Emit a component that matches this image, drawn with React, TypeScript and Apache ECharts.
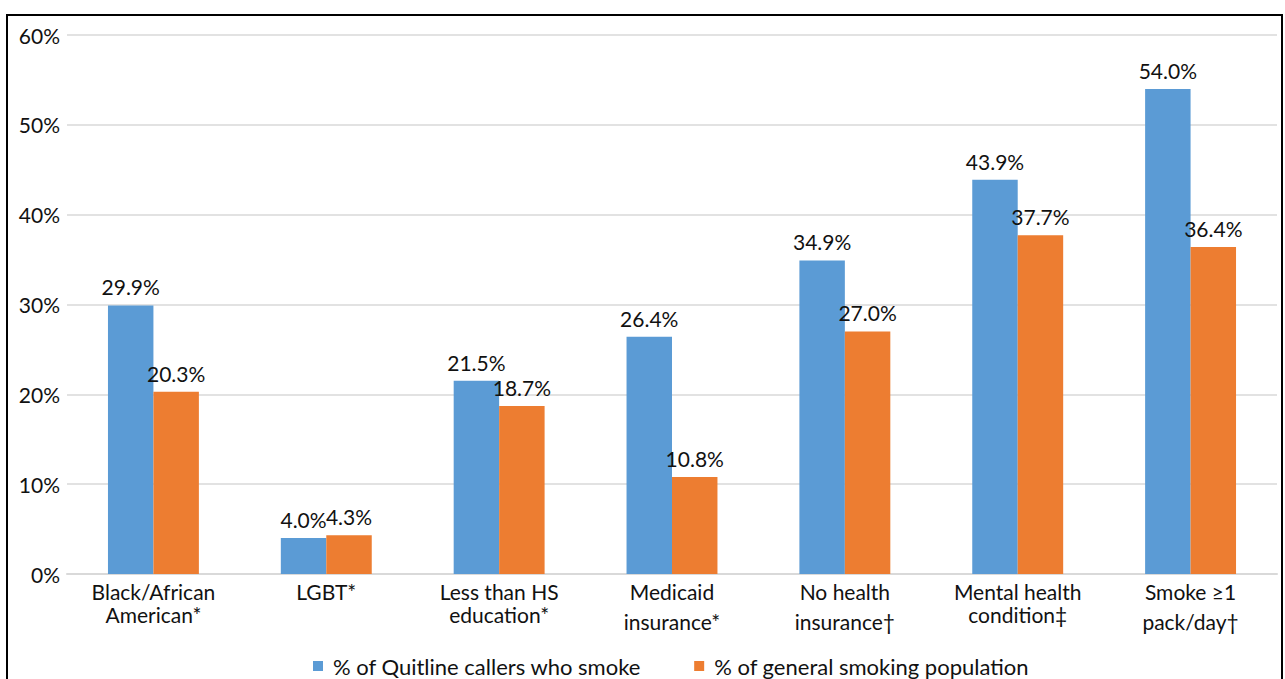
import React, { useEffect, useRef } from "react";
import * as echarts from "echarts";

const categories = [
  "Black/African\nAmerican*",
  "LGBT*",
  "Less than HS\neducation*",
  "Medicaid\ninsurance*",
  "No health\ninsurance†",
  "Mental health\ncondition‡",
  "Smoke ≥1\npack/day†",
];
const quitlineCallers = [29.9, 4.0, 21.5, 26.4, 34.9, 43.9, 54.0];
const generalPopulation = [20.3, 4.3, 18.7, 10.8, 27.0, 37.7, 36.4];
const seriesNames = ["% of Quitline callers who smoke", "% of general smoking population"];
// second-line spacing per category (dagger/asterisk superscripts push some lines lower)
const secondLineStyle = ["b", "b", "b", "c", "c", "b", "c"];

const FONT = "Lato";
const TEXT = "#111";

export default function App() {
  const ref = useRef<HTMLDivElement>(null);
  useEffect(() => {
    document.body.style.margin = "0";
    const chart = echarts.init(ref.current!, null, { renderer: "svg" });
    const labelStyle = {
      show: true,
      position: "top" as const,
      distance: 8,
      fontFamily: FONT,
      fontSize: 21,
      color: TEXT,
      formatter: (p: any) => p.value.toFixed(1) + "%",
    };
    chart.setOption({
      animation: false,
      textStyle: { fontFamily: FONT },
      grid: { left: 67, right: 8, top: 35, bottom: 105, containLabel: false },
      legend: {
        bottom: -3,
        left: 308,
        itemWidth: 10,
        itemHeight: 10,
        itemGap: 53,
        icon: "rect",
        textStyle: { fontFamily: FONT, fontSize: 22, color: TEXT, padding: [0, 0, 0, 5] },
        data: seriesNames,
      },
      xAxis: {
        type: "category",
        data: categories,
        axisLine: { lineStyle: { color: "#d9d9d9", width: 2 } },
        axisTick: { show: false },
        axisLabel: {
          interval: 0,
          margin: 6,
          color: TEXT,
          formatter: (v: string, i: number) => {
            const parts = v.split("\n");
            if (parts.length === 1) return `{a|${parts[0]}}`;
            return `{a|${parts[0]}}\n{${secondLineStyle[i]}|${parts[1]}}`;
          },
          rich: {
            a: { fontFamily: FONT, fontSize: 21, lineHeight: 23, color: TEXT },
            b: { fontFamily: FONT, fontSize: 21, lineHeight: 23, color: TEXT },
            c: { fontFamily: FONT, fontSize: 21, lineHeight: 37, color: TEXT },
          },
        },
      },
      yAxis: {
        type: "value",
        min: 0,
        max: 60,
        interval: 10,
        axisLine: { show: false },
        axisTick: { show: false },
        axisLabel: {
          formatter: "{value}%",
          fontFamily: FONT,
          fontSize: 21,
          color: TEXT,
          margin: 7,
        },
        splitLine: { lineStyle: { color: "#d9d9d9", width: 1.5 } },
      },
      series: [
        {
          name: seriesNames[0],
          type: "bar",
          data: quitlineCallers,
          barWidth: "26.3%",
          barGap: "0%",
          itemStyle: { color: "#5B9BD5" },
          label: labelStyle,
        },
        {
          name: seriesNames[1],
          type: "bar",
          data: generalPopulation,
          barWidth: "26.3%",
          barGap: "0%",
          itemStyle: { color: "#ED7D31" },
          label: labelStyle,
        },
      ],
      graphic: [
        {
          type: "rect",
          shape: { x: 7, y: 15, width: 1275, height: 700 },
          style: { fill: "none", stroke: "#000", lineWidth: 2 },
          silent: true,
        },
      ],
    });
    return () => chart.dispose();
  }, []);
  return <div ref={ref} style={{ width: 1285, height: 679 }} />;
}
